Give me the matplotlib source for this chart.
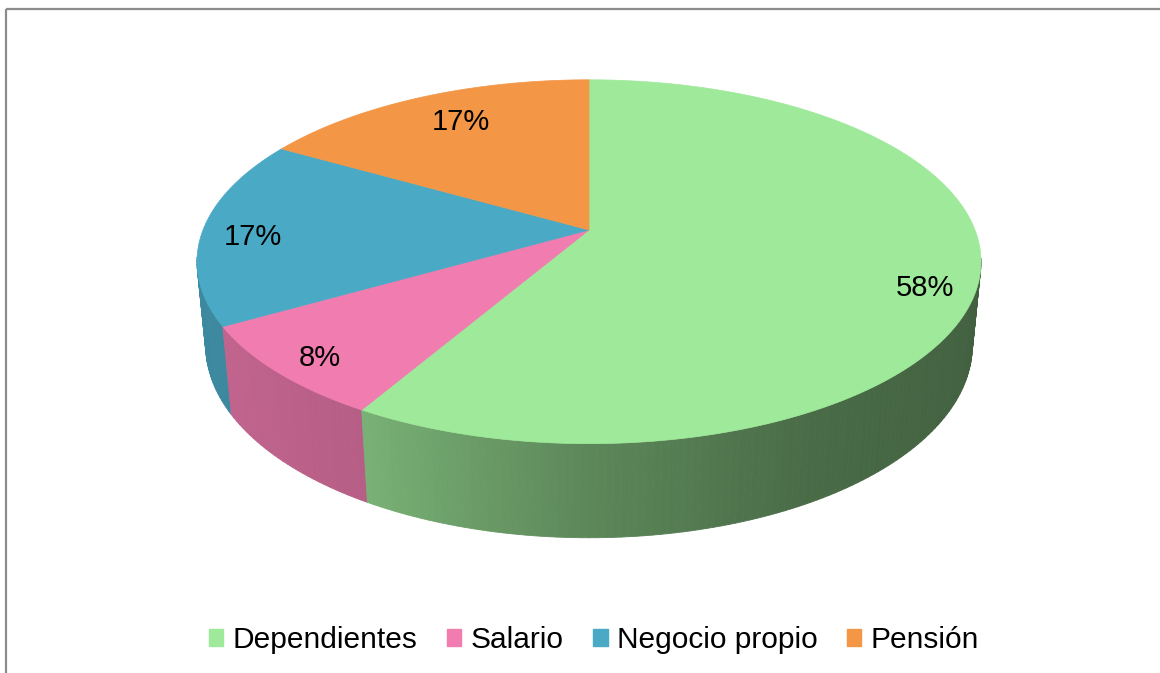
import numpy as np
import matplotlib
matplotlib.use("Agg")
import matplotlib.pyplot as plt
from matplotlib.collections import PolyCollection
from matplotlib.patches import Patch, Rectangle
from matplotlib.colors import to_rgb

plt.rcParams['font.family'] = ['Liberation Sans', 'DejaVu Sans']

# data (counts read as 7/12, 1/12, 2/12, 2/12 -> 58%, 8%, 17%, 17%)
categories = ["Dependientes", "Salario", "Negocio propio", "Pensión"]
values = [7, 1, 2, 2]
colors = ["#9fe99a", "#f07cb0", "#4aa9c4", "#f39646"]

# label placement (radius on the top face, vertical nudge in px)
label_radius = [0.866, 0.878, 0.87, 0.737]
label_dy = [17, 5, 7, -7]

# camera for the fake 3d pie (pixel space)
x0, y0 = 589, 230
D = 5.1
phi = np.arcsin(0.457)
f = 386.0 * D
h = 0.246


def proj(u, v, w):
    depth = D + v * np.cos(phi) - w * np.sin(phi)
    X = x0 + f * u / depth
    Y = y0 - f * (v * np.sin(phi) + w * np.cos(phi)) / depth
    return X, Y


def shade(theta):
    return np.interp(np.cos(theta), [-1, -0.5, 0, 0.5, 1],
                     [0.82, 0.76, 0.58, 0.46, 0.41])


fig = plt.figure(figsize=(11.6, 6.73), dpi=100)
ax = fig.add_axes([0, 0, 1, 1])
ax.set_xlim(0, 1160)
ax.set_ylim(673, 0)
ax.axis('off')

total = float(sum(values))
fracs = np.array(values) / total
starts = np.pi / 2 - 2 * np.pi * np.concatenate([[0], np.cumsum(fracs)[:-1]])
ends = starts - 2 * np.pi * fracs

# side walls
walls = []
for s, e, c in zip(starts, ends, colors):
    n = max(int(np.degrees(s - e)), 2)
    th = np.linspace(s, e, n + 1)
    base = np.array(to_rgb(c))
    for a, b in zip(th[:-1], th[1:]):
        m = 0.5 * (a + b)
        if np.sin(m) > -0.15:
            continue
        xa, ya = proj(np.cos(a), np.sin(a), 0)
        xb, yb = proj(np.cos(b), np.sin(b), 0)
        xc, yc = proj(np.cos(b), np.sin(b), -h)
        xd, yd = proj(np.cos(a), np.sin(a), -h)
        col = np.clip(base * shade(m), 0, 1)
        depth = D + np.sin(m) * np.cos(phi)
        walls.append((depth, [(xa, ya), (xb, yb), (xc, yc), (xd, yd)], col))
walls.sort(key=lambda t: -t[0])
ax.add_collection(PolyCollection([w[1] for w in walls],
                                 facecolors=[w[2] for w in walls],
                                 edgecolors=[w[2] for w in walls],
                                 linewidths=0.6))

# top faces
cx, cy = proj(0, 0, 0)
for s, e, c in zip(starts, ends, colors):
    th = np.linspace(s, e, 200)
    xs, ys = proj(np.cos(th), np.sin(th), 0)
    pts = [(cx, cy)] + list(zip(xs, ys))
    ax.add_patch(plt.Polygon(pts, closed=True, facecolor=c, edgecolor=c,
                             linewidth=0.5))

# percentage labels
for s, e, v, r, dy in zip(starts, ends, values, label_radius, label_dy):
    m = 0.5 * (s + e)
    lx, ly = proj(r * np.cos(m), r * np.sin(m), 0)
    ax.text(lx, ly + dy, "{:.0f}%".format(100 * v / total), fontsize=21,
            ha='center', va='center', color='black')

# chart border
ax.add_patch(Rectangle((6, 9), 1200, 700, fill=False, edgecolor='#8c8c8c',
                       linewidth=1.6))

handles = [Patch(facecolor=c, edgecolor=c) for c in colors]
fig.legend(handles, categories, loc='center', bbox_to_anchor=(0.512, 1 - 640 / 673),
           ncol=4, frameon=False, fontsize=21.5, handlelength=0.48, handleheight=0.48,
           handletextpad=0.3, columnspacing=1.0)

fig.savefig("out.png", dpi=100)
